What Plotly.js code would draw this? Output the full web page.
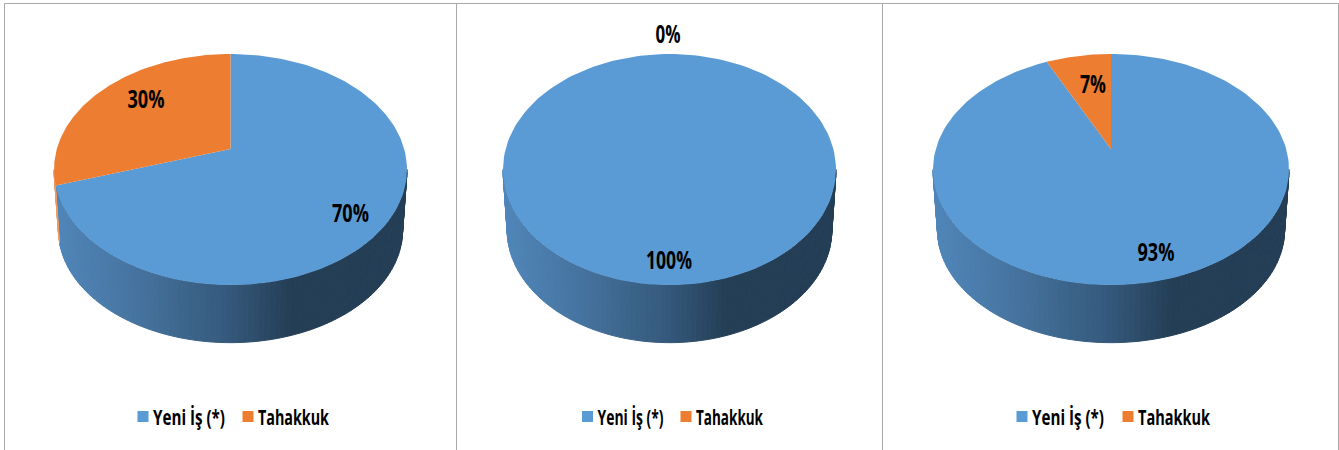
<!DOCTYPE html>
<html><head><meta charset="utf-8">
<script src="https://cdn.plot.ly/plotly-3.0.1.min.js"></script>
<style>html,body{margin:0;padding:0;background:#fff}#c{width:1339px;height:450px}</style>
</head><body><div id="c"></div>
<script>
const categories = ["Yeni İş (*)", "Tahakkuk"];
const valuesLeft = [70, 30];
const valuesMiddle = [100, 0];
const valuesRight = [93, 7];

const BLUE = "#5b9bd5", ORANGE = "#ed7d31";
const FONT = '"Open Sans",sans-serif';
const panels = [
  {values: valuesLeft,   cx: 230.5, half: 176.5, labels: [[350.5,216],[146,102]], legend: "legend",  swatch: 138,    pitch: 105,  widths: [72, 71]},
  {values: valuesMiddle, cx: 669.5, half: 166.5, labels: [[669,263],[668,37]],    legend: "legend2", swatch: 582.5,  pitch: 98.5, widths: [66, 67]},
  {values: valuesRight,  cx: 1111,  half: 178,   labels: [[1156,255],[1093,87]],  legend: "legend3", swatch: 1017,   pitch: 106,  widths: [72, 72]}
];
// Tilted-disc projection: the pie's centre is not the ellipse's centre.
const K = 0.1775, APEX_Y = 149, B = 111.9, ELL_Y = 169.5, DROP = 60.5, S = 0.975, STEP = 1.5;
const SILHOUETTE = Math.acos(-K) * 180 / Math.PI; // where the side wall starts facing the viewer

function rim(p, deg) {
  const t = deg * Math.PI / 180, u = Math.sin(t), v = Math.cos(t), d = 1 + K * v;
  const a = p.half * Math.sqrt(1 - K * K);
  return [p.cx + a * u / d, APEX_Y - B * v / d];
}
function lower(p, q) { return [p.cx + S * (q[0] - p.cx), ELL_Y + DROP + S * (q[1] - ELL_Y)]; }
function mix(stops, f) {
  f = Math.max(0, Math.min(1, f));
  for (let i = 1; i < stops.length; i++) {
    if (f <= stops[i][0]) {
      const g = (f - stops[i-1][0]) / (stops[i][0] - stops[i-1][0]);
      const c = [1,2,3].map(k => Math.round(stops[i-1][k] + g * (stops[i][k] - stops[i-1][k])));
      return `rgb(${c[0]},${c[1]},${c[2]})`;
    }
  }
  return "#000";
}
const wallBlue = [[0,80,134,185],[0.22,70,116,160],[0.5,52,88,122],[0.67,36,62,86],[1,36,62,86]];
const WALL_ORANGE = "#ee9a5f";

const traces = [];
panels.forEach(p => {
  const total = p.values.reduce((a, b) => a + b, 0);
  const boundary = p.values[0] / total * 360;
  // side wall: only the part that faces the viewer
  for (let d = SILHOUETTE; d < 360 - SILHOUETTE; d += STEP) {
    const dn = Math.min(d + STEP, 360 - SILHOUETTE);
    const a = rim(p, d), b = rim(p, dn), c = lower(p, b), e = lower(p, a);
    const f = ((a[0] + b[0]) / 2 - (p.cx - p.half)) / (2 * p.half);
    const col = (d <= boundary) ? mix(wallBlue, f) : WALL_ORANGE;
    traces.push({x: [a[0], b[0], c[0], e[0], a[0]], y: [a[1], b[1], c[1], e[1], a[1]],
      mode: "lines", fill: "toself", fillcolor: col, line: {color: col, width: 1},
      hoverinfo: "skip", showlegend: false});
  }
  // top slices
  let start = 0;
  p.values.forEach((val, i) => {
    const sweep = val / total * 360;
    if (sweep > 0) {
      const xs = [p.cx], ys = [APEX_Y];
      for (let k = 0; k <= 180; k++) {
        const q = rim(p, start + sweep * k / 180);
        xs.push(q[0]); ys.push(q[1]);
      }
      xs.push(p.cx); ys.push(APEX_Y);
      traces.push({x: xs, y: ys, mode: "lines", fill: "toself",
        fillcolor: i ? ORANGE : BLUE, line: {width: 0, color: i ? ORANGE : BLUE},
        name: categories[i], hoverinfo: "name", showlegend: false});
    }
    start += sweep;
  });
  // data labels
  traces.push({x: p.labels.map(l => l[0]), y: p.labels.map(l => l[1]),
    mode: "text", text: p.values.map(v => v + "%"), textposition: "middle center",
    textfont: {family: FONT, size: 25, color: "#000", weight: 700},
    hoverinfo: "skip", showlegend: false});
  // legend entries
  categories.forEach((name, i) => traces.push({x: [null], y: [null], name, mode: "markers",
    marker: {symbol: "square", size: 11, color: i ? ORANGE : BLUE, line: {width: 0}}, legend: p.legend, showlegend: true}));
});

const frame = {type: "line", xref: "x", yref: "y", line: {color: "#a9a9a9", width: 1}};
const legendStyle = p => ({orientation: "h", x: (p.swatch - 15) / 1339, y: 0.074, xanchor: "left", yanchor: "middle",
  bgcolor: "rgba(0,0,0,0)", font: {family: FONT, size: 22, color: "#000", weight: 700},
  entrywidth: p.pitch - 45, entrywidthmode: "pixels"});

const layout = {
  width: 1339, height: 450, margin: {l: 0, r: 0, t: 0, b: 0}, autosize: false,
  paper_bgcolor: "#fff", plot_bgcolor: "#fff", hovermode: "closest",
  xaxis: {range: [0, 1339], visible: false, fixedrange: true},
  yaxis: {range: [450, 0], visible: false, fixedrange: true},
  shapes: [
    {...frame, x0: 4.5, x1: 1338.5, y0: 3.5, y1: 3.5},
    {...frame, x0: 4.5, x1: 4.5, y0: 3.5, y1: 450},
    {...frame, x0: 456.5, x1: 456.5, y0: 3.5, y1: 450},
    {...frame, x0: 882.5, x1: 882.5, y0: 3.5, y1: 450},
    {...frame, x0: 1338.5, x1: 1338.5, y0: 3.5, y1: 450}
  ],
  legend: legendStyle(panels[0]), legend2: legendStyle(panels[1]), legend3: legendStyle(panels[2])
};

// The reference type is condensed: squeeze each real text to its measured width.
const labelWidths = {"100%": 46, "93%": 37, "70%": 37, "30%": 37, "7%": 26, "0%": 25};
function squeeze(t, w) {
  t.setAttribute("textLength", w);
  t.setAttribute("lengthAdjust", "spacingAndGlyphs");
}
function condense() {
  document.querySelectorAll("#c .textpoint text").forEach(t => {
    const w = labelWidths[t.textContent];
    if (w) squeeze(t, w);
  });
  panels.forEach(p => {
    document.querySelectorAll(`#c .${p.legend}text`).forEach(t => {
      const i = categories.indexOf(t.textContent);
      if (i >= 0) squeeze(t, p.widths[i]);
      t.setAttribute("x", 30);
    });
  });
}
Plotly.newPlot("c", traces, layout, {displayModeBar: false}).then(gd => {
  condense();
  gd.on("plotly_afterplot", condense);
});
</script></body></html>
